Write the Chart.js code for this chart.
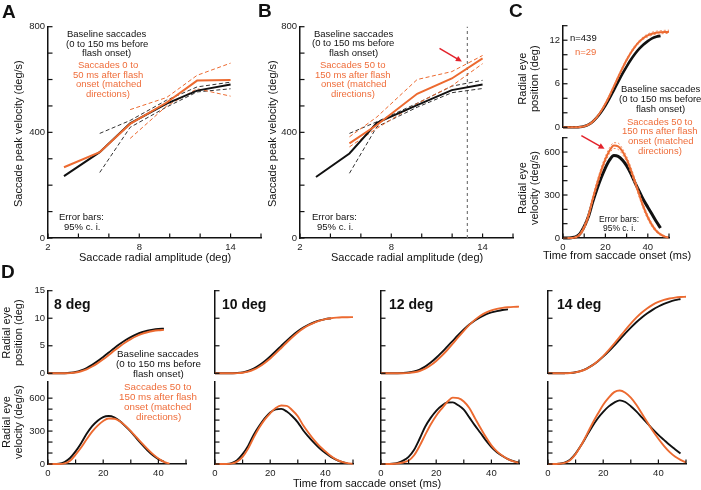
<!DOCTYPE html>
<html><head><meta charset="utf-8">
<script src="https://cdn.jsdelivr.net/npm/chart.js@4.4.1/dist/chart.umd.min.js"></script>
<style>
html,body{margin:0;padding:0;background:#fff;}
body{width:701px;height:490px;position:relative;overflow:hidden;font-family:"Liberation Sans",Arial,sans-serif;}
canvas{position:absolute;}
.t{position:absolute;white-space:nowrap;line-height:1;}
</style></head><body>
<script>
// ---------------- DATA ----------------
// Panel A
const ampA      = [3.05, 5.4, 7.4, 9.8, 11.8, 14];
const baseA     = [234, 325, 434, 509, 558, 581];
const baseAHi   = [null, 396, 445, 522, 572, 590];
const baseALo   = [null, 248, 419, 496, 553, 565];
const flashA    = [268, 325, 432, 513, 596, 598];
const flashAHi  = [null, null, 486, 532, 616, 662];
const flashALo  = [null, null, 377, 500, 565, 537];
// Panel B
const ampB      = [3.05, 5.25, 7.05, 9.7, 11.98, 14];
const baseB     = [231, 320, 436, 503, 560, 581];
const baseBHi   = [null, 396, 440, 510, 575, 597];
const baseBLo   = [null, 245, 421, 495, 550, 566];
const flashB    = [null, 358, 428, 546, 604, 680];
const flashBHi  = [null, 383, 458, 600, 630, 691];
const flashBLo  = [null, 345, 415, 509, 576, 660];
const markerB   = 13;
// tick labels
const ampTicks  = [2, 8, 14];
const pvTicks   = [0, 400, 800];
const timeTicks = [0, 20, 40];
const cPosTicks = [0, 6, 12];
const velTicks  = [0, 300, 600];
const dPosTicks = [0, 5, 10, 15];
// time base (ms)
const tMs = [0,2,4,6,8,10,12,14,16,18,20,22,24,26,28,30,32,34,36,38,40,42,44,46,48,50];
// Panel C
const cPosBase   = [0,0,0,0.01,0.05,0.16,0.38,0.78,1.36,2.11,3.0,4.02,5.13,6.25,7.35,8.37,9.3,10.13,10.83,11.41,11.88,12.26,12.48,12.6];
const cPosFlash  = [0,0,0,0,0.03,0.13,0.36,0.78,1.41,2.25,3.25,4.39,5.63,6.9,8.12,9.26,10.27,11.12,11.8,12.31,12.66,12.89,13.03,13.1,13.14,13.15];
const cPosFlashHi= [0,0,0,0.01,0.05,0.17,0.42,0.86,1.5,2.35,3.38,4.55,5.8,7.08,8.3,9.44,10.45,11.3,11.98,12.5,12.86,13.1,13.24,13.32,13.36,13.38];
const cPosFlashLo= [0,0,0,0,0.02,0.1,0.3,0.7,1.32,2.15,3.12,4.23,5.46,6.72,7.94,9.08,10.09,10.94,11.62,12.12,12.46,12.68,12.82,12.88,12.92,12.93];
const cVelBase   = [0,0,2,8,30,80,150,250,340,420,490,545,575,570,545,505,450,385,325,265,215,165,115,70];
const cVelFlash  = [0,0,0,5,25,75,155,270,375,470,550,610,645,640,605,550,475,390,300,215,145,90,50,25,10,3];
const cVelFlashHi= [0,0,2,10,35,90,175,290,395,490,570,630,665,662,625,570,495,410,318,232,160,102,60,32,15,6];
const cVelFlashLo= [0,0,0,1,15,60,135,250,355,450,530,590,625,618,585,530,455,370,282,198,130,78,40,18,5,0];
// Panel D, 8 deg
const d8PosBase  = [0,0,0,0.02,0.09,0.24,0.53,0.95,1.53,2.21,2.97,3.76,4.56,5.31,5.99,6.58,7.07,7.45,7.73,7.92,8.04,8.1];
const d8PosFlash = [0,0,0,0,0.04,0.15,0.37,0.73,1.23,1.85,2.55,3.32,4.12,4.88,5.59,6.21,6.73,7.15,7.46,7.68,7.81,7.88];
const d8VelBase  = [0,0,2,18,55,115,190,275,345,395,428,437,425,392,345,295,235,178,125,80,45,22];
const d8VelFlash = [0,0,0,5,30,85,150,225,295,350,392,414,413,390,350,300,245,190,138,90,50,20,2];
// 10 deg
const d10PosBase  = [0,0,0,0.01,0.05,0.17,0.42,0.85,1.44,2.19,3.06,4.0,4.98,5.94,6.84,7.64,8.31,8.85,9.27,9.6,9.83,10.0];
const d10PosFlash = [0,0,0,0,0.03,0.11,0.3,0.66,1.2,1.89,2.7,3.62,4.6,5.6,6.55,7.42,8.16,8.75,9.22,9.57,9.83,10.0,10.11,10.17,10.19,10.2];
const d10VelBase  = [0,0,1,8,35,90,165,265,345,415,470,498,502,478,435,380,305,245,190,140,100,65,38,18,6];
const d10VelFlash = [0,0,0,4,22,65,140,240,330,405,462,510,533,530,490,435,350,280,215,160,115,72,40,20,8,2];
// 12 deg
const d12PosBase  = [0,0,0,0.01,0.05,0.14,0.33,0.68,1.22,1.95,2.82,3.8,4.85,5.9,6.95,7.95,8.85,9.6,10.2,10.7,11.05,11.3,11.5,11.6];
const d12PosFlash = [0,0,0,0,0.02,0.07,0.18,0.42,0.84,1.46,2.25,3.18,4.23,5.38,6.57,7.72,8.79,9.7,10.44,11.0,11.42,11.7,11.88,12.0,12.07,12.1];
const d12VelBase  = [0,0,2,10,30,65,130,230,340,420,485,530,560,562,535,495,425,352,285,215,155,108,73,45,26,12];
const d12VelFlash = [0,0,0,4,14,32,80,165,265,360,440,505,565,605,600,570,510,420,330,245,170,115,75,45,24,10];
// 14 deg
const d14PosBase  = [0,0,0,0.02,0.07,0.2,0.45,0.86,1.44,2.16,3.02,3.99,5.04,6.14,7.24,8.29,9.27,10.14,10.9,11.57,12.13,12.6,12.98,13.28,13.5];
const d14PosFlash = [0,0,0,0.01,0.06,0.17,0.42,0.82,1.41,2.18,3.11,4.19,5.37,6.61,7.85,9.02,10.1,11.03,11.82,12.46,12.95,13.32,13.58,13.75,13.85,13.9];
const d14VelBase  = [0,0,2,12,40,95,170,255,340,415,475,525,560,580,565,527,480,425,370,315,265,220,175,135,95];
const d14VelFlash = [0,0,2,10,35,90,170,265,365,455,540,605,655,670,650,605,540,460,380,300,230,165,110,68,38,15];
const dLabels = ['8 deg','10 deg','12 deg','14 deg'];

// ---------------- STYLE / HELPERS ----------------
const FONT = '"Liberation Sans", Arial, sans-serif';
const ORANGE = '#EC6A30', ORANGE_T = '#EF6D3A', ORANGE_CI = 'rgba(240,125,75,0.9)';
const BLACK = '#111111', RED = '#E3222B', AX = '#111';

function pts(xs, ys){ const o=[]; ys.forEach((y,i)=>{ if(y!==null&&y!==undefined) o.push({x:xs[i],y}); }); return o; }
function line(xs, ys, color, width, dash, smooth){
  return {data:pts(xs,ys), borderColor:color, borderWidth:width, borderDash:dash||[],
    pointRadius:0, fill:false, clip:4, tension:0,
    cubicInterpolationMode: smooth ? 'monotone' : 'default'};
}
function scale(min, max, step, labels, fit, isX, show){
  return {
    type:'linear', min, max, display: show!==false, position: isX?'bottom':'left',
    grid:{display:false, drawOnChartArea:false, drawTicks:false},
    border:{display:true, color:AX, width:1.5},
    ticks:{stepSize:step, autoSkip:false, maxRotation:0, minRotation:0, padding: isX?4:3, color:'#222',
      font:{family:FONT, size:9.5},
      callback:(v)=> labels.includes(v) ? String(v) : ''},
    afterBuildTicks:(s)=>{ s.ticks = s.ticks.filter(t => Math.abs(t.value/step - Math.round(t.value/step))<1e-6); },
    afterFit:(s)=>{ if(show===false) return; if(isX) s.height = fit; else s.width = fit; }
  };
}
// inward tick marks (MATLAB style)
const inTicks = {id:'inTicks', afterDraw(chart){
  const c=chart.ctx; c.save(); c.strokeStyle=AX; c.lineWidth=1.2;
  ['x','y'].forEach(id=>{
    const s=chart.scales[id]; if(!s || s.options.display===false) return;
    s.ticks.forEach(t=>{
      const p=s.getPixelForValue(t.value);
      c.beginPath();
      if(id==='x'){ c.moveTo(p, s.top); c.lineTo(p, s.top-4.5); }
      else { c.moveTo(s.right, p); c.lineTo(s.right+4.5, p); }
      c.stroke();
    });
  });
  c.restore();
}};
function arrowPlugin(from, to){
  return {id:'arrow', afterDraw(chart){
    const xs=chart.scales.x, ys=chart.scales.y, c=chart.ctx;
    const x1=xs.getPixelForValue(from[0]), y1=ys.getPixelForValue(from[1]);
    const x2=xs.getPixelForValue(to[0]), y2=ys.getPixelForValue(to[1]);
    const a=Math.atan2(y2-y1,x2-x1), h=6;
    c.save(); c.strokeStyle=RED; c.fillStyle=RED; c.lineWidth=1.5;
    c.beginPath(); c.moveTo(x1,y1); c.lineTo(x2-h*0.8*Math.cos(a), y2-h*0.8*Math.sin(a)); c.stroke();
    c.beginPath(); c.moveTo(x2,y2);
    c.lineTo(x2-h*Math.cos(a)+3*Math.sin(a), y2-h*Math.sin(a)-3*Math.cos(a));
    c.lineTo(x2-h*Math.cos(a)-3*Math.sin(a), y2-h*Math.sin(a)+3*Math.cos(a));
    c.closePath(); c.fill(); c.restore();
  }};
}
function makeChart(g, xCfg, yCfg, datasets, plugins){
  const padL=2, padT=8, padR=14, yW=40, xH=22;
  const padB = g.xVis ? 2 : 8;
  const cv = document.createElement('canvas');
  const left = g.L - yW - padL, top = g.T - padT;
  const w = g.R - g.L + yW + padL + padR, h = g.B - g.T + padT + padB + (g.xVis?xH:0);
  cv.width=w; cv.height=h; cv.style.left=left+'px'; cv.style.top=top+'px';
  cv.style.width=w+'px'; cv.style.height=h+'px';
  document.body.appendChild(cv);
  new Chart(cv, {type:'line', data:{datasets},
    options:{responsive:false, animation:false, devicePixelRatio:1,
      layout:{padding:{left:padL, top:padT, right:padR, bottom:padB}},
      plugins:{legend:{display:false}, tooltip:{enabled:false}},
      scales:{x:xCfg, y:yCfg}},
    plugins: [inTicks].concat(plugins||[])});
}
function txt(s, x, y, o){
  o=o||{};
  const d=document.createElement('div'); d.className='t';
  if(o.html) d.innerHTML=s; else d.textContent=s;
  d.style.fontSize=(o.size||9.5)+'px'; d.style.color=o.color||'#111';
  if(o.bold) d.style.fontWeight='bold';
  if(o.lh) d.style.lineHeight=o.lh;
  d.style.textAlign='center';
  document.body.appendChild(d);
  const w=d.offsetWidth, h=d.offsetHeight;
  if(o.rot){
    d.style.transformOrigin='0 0';
    d.style.left=Math.round(x - h/2)+'px';
    d.style.top=Math.round(y + w/2)+'px';
    d.style.transform='rotate(-90deg)';
  } else {
    d.style.left=Math.round(o.left ? x : x - w/2)+'px';
    d.style.top=Math.round(y - h/2)+'px';
  }
}

// ---------------- PANEL A ----------------
makeChart({L:48,T:26,R:261,B:238,xVis:true},
  scale(2,16,2,ampTicks,22,true), scale(0,800,100,pvTicks,40,false),
  [ line(ampA, flashA, ORANGE, 2),
    line(ampA, baseA, BLACK, 2),
    line(ampA, flashAHi, ORANGE, 1, [4,2.5]), line(ampA, flashALo, ORANGE, 1, [4,2.5]),
    line(ampA, baseAHi, '#333', 1, [4,2.5]), line(ampA, baseALo, '#333', 1, [4,2.5]) ]);

// ---------------- PANEL B ----------------
makeChart({L:300,T:26,R:513,B:238,xVis:true},
  scale(2,16,2,ampTicks,22,true), scale(0,800,100,pvTicks,40,false),
  [ line(ampB, flashB, ORANGE, 2),
    line(ampB, baseB, BLACK, 2),
    line(ampB, flashBHi, ORANGE, 1, [4,2.5]), line(ampB, flashBLo, ORANGE, 1, [4,2.5]),
    line(ampB, baseBHi, '#333', 1, [4,2.5]), line(ampB, baseBLo, '#333', 1, [4,2.5]),
    line([markerB, markerB], [0, 800], '#777', 1.2, [3,3]) ],
  [arrowPlugin([11.17,718],[12.64,668])]);

// ---------------- PANEL C ----------------
makeChart({L:563,T:25,R:669,B:128,xVis:false},
  scale(0,50,10,timeTicks,0,true,false), scale(0,14,2,cPosTicks,40,false),
  [ line(tMs, cPosFlashHi, ORANGE_CI, 1, [2,2], true),
    line(tMs, cPosFlashLo, ORANGE_CI, 1, [2,2], true),
    line(tMs, cPosFlash, ORANGE, 2, [], true),
    line(tMs, cPosBase, BLACK, 2.6, [], true) ]);
makeChart({L:563,T:137,R:669,B:238,xVis:true},
  scale(0,50,10,timeTicks,22,true), scale(0,700,100,velTicks,40,false),
  [ line(tMs, cVelFlashHi, ORANGE_CI, 1, [2,2], true),
    line(tMs, cVelFlashLo, ORANGE_CI, 1, [2,2], true),
    line(tMs, cVelFlash, ORANGE, 2, [], true),
    line(tMs, cVelBase, BLACK, 3, [], true) ],
  [arrowPlugin([8.66,715],[19.6,623])]);

// ---------------- PANEL D ----------------
const dCols = [48, 215, 381, 548];
const dPos = [[d8PosBase,d8PosFlash],[d10PosBase,d10PosFlash],[d12PosBase,d12PosFlash],[d14PosBase,d14PosFlash]];
const dVel = [[d8VelBase,d8VelFlash],[d10VelBase,d10VelFlash],[d12VelBase,d12VelFlash],[d14VelBase,d14VelFlash]];
dCols.forEach((L,i)=>{
  const first = i===0;
  makeChart({L, T:290, R:L+138, B:374, xVis:false},
    scale(0,50,10,timeTicks,0,true,false), scale(0,15,5, first?dPosTicks:[], 40, false),
    [ line(tMs, dPos[i][1], ORANGE, 1.9, [], true), line(tMs, dPos[i][0], BLACK, 1.9, [], true) ]);
  makeChart({L, T:381, R:L+138, B:464, xVis:true},
    scale(0,50,10,timeTicks,22,true), scale(0,750,100, first?velTicks:[], 40, false),
    [ line(tMs, dVel[i][1], ORANGE, 1.9, [], true), line(tMs, dVel[i][0], BLACK, 1.9, [], true) ]);
});

// ---------------- TEXT ----------------
txt('A', 8.5, 11.5, {size:19, bold:true});
txt('B', 265, 10.5, {size:19, bold:true});
txt('C', 515.5, 10.5, {size:19, bold:true});
txt('D', 8, 271.5, {size:19, bold:true});

txt('Saccade radial amplitude (deg)', 155, 257, {size:11});
txt('Saccade radial amplitude (deg)', 407, 257, {size:11});
txt('Saccade peak velocity (deg/s)', 18, 133, {size:11, rot:true});
txt('Saccade peak velocity (deg/s)', 272, 133, {size:11, rot:true});
txt('Time from saccade onset (ms)', 617, 255, {size:11});
txt('Time from saccade onset (ms)', 367, 483, {size:11});
txt('Radial eye<br>position (deg)', 528, 78, {size:11, rot:true, html:true, lh:'1.1'});
txt('Radial eye<br>velocity (deg/s)', 528, 188, {size:11, rot:true, html:true, lh:'1.1'});
txt('Radial eye<br>position (deg)', 12, 332, {size:11, rot:true, html:true, lh:'1.1'});
txt('Radial eye<br>velocity (deg/s)', 12, 422, {size:11, rot:true, html:true, lh:'1.1'});

const blackLines = ['Baseline saccades','(0 to 150 ms before','flash onset)'];
const orangeA = ['Saccades 0 to','50 ms after flash','onset (matched','directions)'];
const orangeB = ['Saccades 50 to','150 ms after flash','onset (matched','directions)'];
// A
[34.3,43.6,52.8].forEach((y,k)=>txt(blackLines[k],106.7,y));
[65,74.5,84,93.5].forEach((y,k)=>txt(orangeA[k],108.3,y,{color:ORANGE_T}));
txt('Error bars:',81.7,217.3); txt('95% c. i.',81.7,226.7);
// B
[33.5,43,52.5].forEach((y,k)=>txt(blackLines[k],353,y));
[65,74.7,84.3,94].forEach((y,k)=>txt(orangeB[k],353.3,y,{color:ORANGE_T}));
txt('Error bars:',334.7,217.3); txt('95% c. i.',334.7,226.7);
// C
txt('n=439',570,37.5,{left:true}); txt('n=29',575,51.7,{left:true,color:ORANGE_T});
[89.3,99,108.5].forEach((y,k)=>txt(blackLines[k],660,y));
[121.7,131.3,141,150.7].forEach((y,k)=>txt(orangeB[k],660,y,{color:ORANGE_T}));
txt('Error bars:',619,219.3,{size:8.5}); txt('95% c. i.',619,228.3,{size:8.5});
// D
[354,364.2,374.3].forEach((y,k)=>txt(blackLines[k],158.3,y,{size:9.8}));
[387.3,397.3,407.3,416.8].forEach((y,k)=>txt(orangeB[k],158.3,y,{size:9.8,color:ORANGE_T}));
const dLabelX = [54, 221.7, 389.3, 556.7];
dLabels.forEach((s,i)=>txt(s,dLabelX[i],304,{size:14,bold:true,left:true}));
</script></body></html>
